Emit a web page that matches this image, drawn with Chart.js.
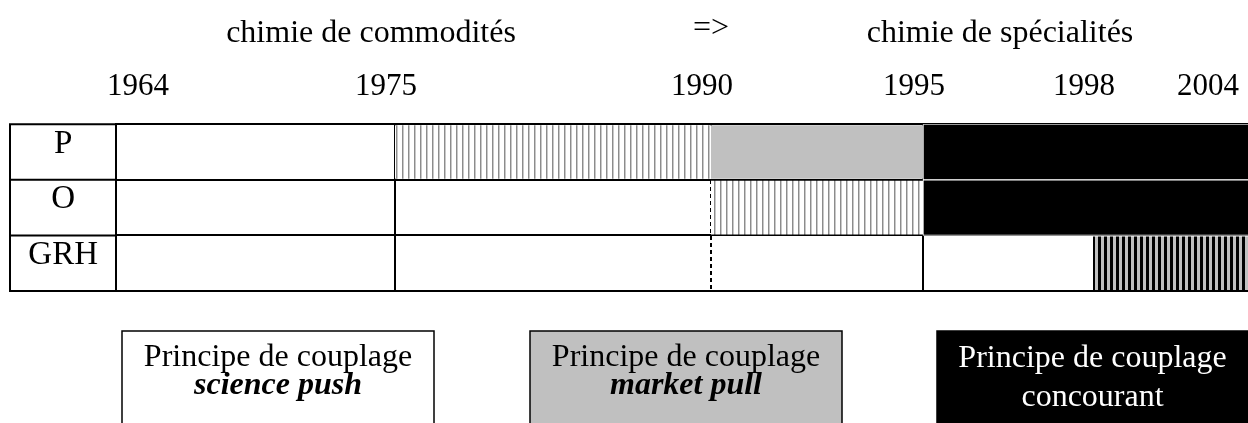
<!DOCTYPE html>
<html lang="fr">
<head>
<meta charset="UTF-8">
<title>Principes de couplage - chimie</title>
<script src="https://cdn.jsdelivr.net/npm/chart.js"></script>
<style>
    html, body { margin: 0; padding: 0; background: #fff; }
    #wrap { width: 1248px; height: 423px; }
</style>
</head>
<body>
<div id="wrap"><canvas id="myChart"></canvas></div>
<script>
// Lignes du tableau et années-charnières
const rows = ['P', 'O', 'GRH'];
const years = [1964, 1975, 1990, 1995, 1998, 2004];
const phases = ['chimie de commodités', '=>', 'chimie de spécialités'];

// Périodes [début, fin] par ligne (P, O, GRH)
const hatchFine = [[1975, 1990], [1990, 1995], null];
const grayFill  = [[1990, 1995], null, null];
const blackFill = [[1995, 2004], [1995, 2004], null];
const hatchBold = [null, null, [1998, 2004]];

// Encadrés du bas
const boxLine1 = ['Principe de couplage', 'Principe de couplage', 'Principe de couplage'];
const boxLine2 = ['science push', 'market pull', 'concourant'];

const FONT = '"Liberation Serif", "Times New Roman", serif';
Chart.defaults.font.family = FONT;
Chart.defaults.color = '#000';

// Echelle par colonnes : chaque intervalle d'années a sa propre largeur (comme un tableau)
const LinearScale = Chart.LinearScale || Chart.registry.getScale('linear');
class ColumnScale extends LinearScale {
    getPixelForValue(value) {
        const br = this.options.breaks, w = this.options.widths;
        const total = w.reduce((a, b) => a + b, 0);
        let acc = 0;
        for (let i = 0; i < w.length; i++) {
            if (value <= br[i + 1] || i === w.length - 1) {
                acc += (value - br[i]) / (br[i + 1] - br[i]) * w[i];
                break;
            }
            acc += w[i];
        }
        return this.left + acc / total * this.width;
    }
    getValueForPixel(pixel) {
        const br = this.options.breaks, w = this.options.widths;
        const total = w.reduce((a, b) => a + b, 0);
        let pos = (pixel - this.left) / this.width * total;
        for (let i = 0; i < w.length; i++) {
            if (pos <= w[i] || i === w.length - 1) return br[i] + pos / w[i] * (br[i + 1] - br[i]);
            pos -= w[i];
        }
    }
}
ColumnScale.id = 'columns';
ColumnScale.defaults = {};
Chart.register(ColumnScale);

const ctx = document.getElementById('myChart').getContext('2d');

// motifs hachurés verticaux
function stripePattern(cols) {
    const c = document.createElement('canvas');
    c.width = cols.length;
    c.height = 4;
    const g = c.getContext('2d');
    cols.forEach((col, i) => { g.fillStyle = col; g.fillRect(i, 0, 1, 4); });
    return ctx.createPattern(c, 'repeat');
}
const fineHatch = stripePattern(['#8c8c8c', '#c8c8c8', '#fff', '#fff', '#fff', '#fff']);
const boldHatch = stripePattern(['#000', '#000', '#000', '#c0c0c0', '#c0c0c0', '#c0c0c0']);

// colonne des libellés (P, O, GRH) : bord gauche et traits horizontaux
const labelColumn = {
    id: 'labelColumn',
    beforeDatasetsDraw(chart) {
        const c = chart.ctx, a = chart.chartArea;
        const x0 = chart.scales.y.left;
        const n = chart.data.labels.length;
        c.save();
        c.strokeStyle = '#000';
        c.lineWidth = 2;
        c.beginPath();
        c.moveTo(x0, a.top - 1);
        c.lineTo(x0, a.bottom + 1);
        for (let i = 0; i <= n; i++) {
            const y = a.top + i * (a.bottom - a.top) / n;
            c.moveTo(x0 - 1, y);
            c.lineTo(a.left, y);
        }
        c.stroke();
        c.restore();
    }
};

// textes du haut
const header = {
    id: 'header',
    afterDraw(chart, args, opts) {
        const c = chart.ctx;
        c.save();
        c.fillStyle = '#000';
        c.textAlign = 'center';
        c.textBaseline = 'alphabetic';
        c.font = '32px ' + FONT;
        phases.forEach((t, i) => c.fillText(t, opts.pos[i][0], opts.pos[i][1]));
        c.restore();
    }
};

// encadrés "Principe de couplage"
const boxes = {
    id: 'boxes',
    afterDraw(chart, args, opts) {
        const c = chart.ctx;
        c.save();
        c.textAlign = 'center';
        c.textBaseline = 'alphabetic';
        opts.items.forEach((b, i) => {
            c.fillStyle = b.fill;
            c.fillRect(b.x, b.y, b.w, 120);
            c.strokeStyle = '#000';
            c.lineWidth = 1.5;
            c.strokeRect(b.x, b.y, b.w, 120);
            c.fillStyle = b.text;
            c.font = '32px ' + FONT;
            c.fillText(boxLine1[i], b.x + b.w / 2, b.y + b.l1);
            c.font = (b.italic ? 'italic bold ' : '') + '32px ' + FONT;
            c.fillText(boxLine2[i], b.x + b.w / 2, b.y + b.l2);
        });
        c.restore();
    }
};

const thin = 54 / 56;

new Chart(ctx, {
    type: 'bar',
    data: {
        labels: rows,
        datasets: [
            { label: 'hachuré', data: hatchFine, backgroundColor: fineHatch, barPercentage: thin },
            { label: 'gris', data: grayFill, backgroundColor: '#c0c0c0', barPercentage: thin },
            { label: 'noir', data: blackFill, backgroundColor: '#000', barPercentage: 1,
              borderColor: '#fff', borderWidth: { top: 1, bottom: 1, left: 1, right: 0 }, borderSkipped: false },
            { label: 'hachuré GRH', data: hatchBold, backgroundColor: boldHatch, barPercentage: thin }
        ]
    },
    options: {
        indexAxis: 'y',
        responsive: true,
        maintainAspectRatio: false,
        animation: false,
        events: [],
        grouped: false,
        categoryPercentage: 1,
        layout: { padding: { top: 68, left: 10, right: 0, bottom: 132 } },
        scales: {
            x: {
                type: 'columns',
                position: 'top',
                min: 1964,
                max: 2004,
                breaks: years,
                widths: [279, 316, 212, 170, 155],
                z: 1,
                afterBuildTicks: s => { s.ticks = years.map(v => ({ value: v })); },
                ticks: {
                    autoSkip: false,
                    maxRotation: 0,
                    align: 'inner',
                    padding: 0,
                    labelOffset: -9,
                    font: { size: 31 },
                    callback: v => String(v)
                },
                grid: {
                    drawTicks: true,
                    tickLength: 19,
                    tickColor: 'rgba(0,0,0,0)',
                    lineWidth: 2,
                    color: c => (c.tick && (c.tick.value === 1998 || c.tick.value === 2004)) ? 'rgba(0,0,0,0)' : '#000'
                },
                border: {
                    display: false,
                    dash: c => (c.tick && c.tick.value === 1990) ? [4, 3] : []
                }
            },
            y: {
                type: 'category',
                afterFit: s => { s.width = 106; },
                ticks: {
                    crossAlign: 'center',
                    padding: 18,
                    labelOffset: -8,
                    font: { size: 33 }
                },
                grid: {
                    offset: true,
                    drawTicks: false,
                    color: '#000',
                    lineWidth: 2
                },
                border: { display: true, color: '#000', width: 2 }
            }
        },
        plugins: {
            legend: { display: false },
            tooltip: { enabled: false },
            header: { pos: [[371, 42], [711, 37], [1000, 42]] },
            boxes: {
                items: [
                    { x: 122, y: 331, w: 312, fill: '#fff', text: '#000', italic: true, l1: 35, l2: 63 },
                    { x: 530, y: 331, w: 312, fill: '#c0c0c0', text: '#000', italic: true, l1: 35, l2: 63 },
                    { x: 937, y: 331, w: 311, fill: '#000', text: '#fff', italic: false, l1: 36, l2: 75 }
                ]
            }
        }
    },
    plugins: [labelColumn, header, boxes]
});
</script>
</body>
</html>
